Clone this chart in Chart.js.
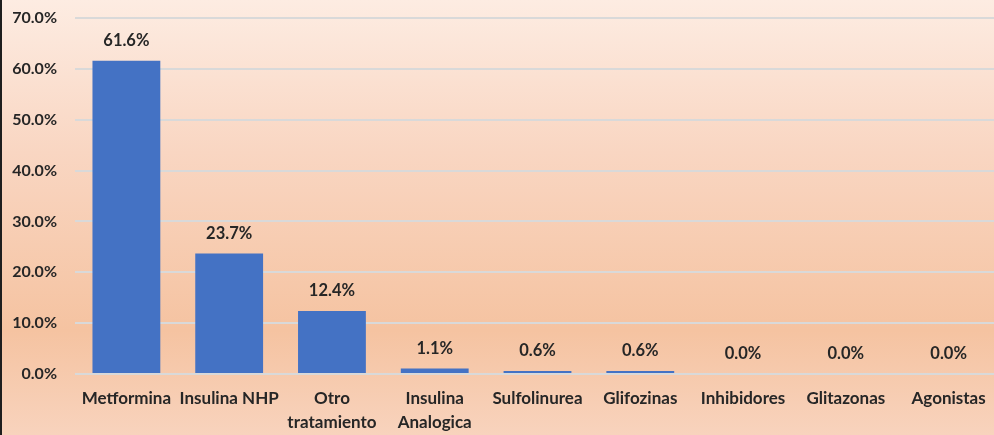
<!DOCTYPE html>
<html>
<head>
<meta charset="utf-8">
<script src="https://cdn.jsdelivr.net/npm/chart.js@4"></script>
<style>
  html, body { margin: 0; padding: 0; overflow: hidden; }
  body {
    width: 994px; height: 435px;
    background: linear-gradient(to bottom, #fdece2 0%, #f9d6c2 35%, #f5c3a1 76%, #f8d3bd 100%);
  }
  #wrap { position: absolute; left: 0; top: 0; width: 1000px; height: 435px; }
  #edge { position: absolute; left: 0; top: 0; width: 2px; height: 435px; background: #1e1e1e; }
</style>
</head>
<body>
<div id="wrap"><canvas id="barChart"></canvas></div>
<div id="edge"></div>
<script>
// categories + values (percent)
const categories = [
  "Metformina", "Insulina NHP", ["Otro", "tratamiento"], ["Insulina", "Analogica"],
  "Sulfolinurea", "Glifozinas", "Inhibidores", "Glitazonas", "Agonistas"
];
const values = [61.6, 23.7, 12.4, 1.1, 0.6, 0.6, 0.0, 0.0, 0.0];
const yTicks = [0, 10, 20, 30, 40, 50, 60, 70];

const textColor = "#262626";
const fontFamily = "Lato, 'Open Sans', sans-serif";

// simple value labels above each bar
const valueLabels = {
  id: "valueLabels",
  afterDatasetsDraw(chart) {
    const ctx = chart.ctx;
    const meta = chart.getDatasetMeta(0);
    ctx.save();
    ctx.font = "bold 16.5px " + fontFamily;
    ctx.fillStyle = textColor;
    ctx.textAlign = "center";
    ctx.textBaseline = "middle";
    meta.data.forEach((bar, i) => {
      ctx.fillText(values[i].toFixed(1) + "%", bar.x, bar.y - 20);
    });
    ctx.restore();
  }
};

const data = {
  labels: categories,
  datasets: [{
    data: values,
    backgroundColor: "#4472c4",
    borderWidth: 0,
    categoryPercentage: 1,
    barPercentage: 0.66,
  }]
};

const config = {
  type: "bar",
  data: data,
  options: {
    responsive: false,
    animation: false,
    layout: { padding: { top: 18, left: 0, right: 0, bottom: 0 } },
    plugins: { legend: { display: false }, tooltip: { enabled: false } },
    scales: {
      x: {
        grid: { display: false, drawTicks: false },
        border: { display: false },
        ticks: {
          color: textColor,
          padding: 12,
          maxRotation: 0,
          autoSkip: false,
          font: { family: fontFamily, size: 17, weight: "bold", lineHeight: 1.42 },
        },
        afterFit(scale) { scale.height = 61; },
      },
      y: {
        min: 0,
        max: 70,
        afterBuildTicks(scale) { scale.ticks = yTicks.map(v => ({ value: v })); },
        grid: { color: "#d9d9d9", lineWidth: 2, drawTicks: false },
        border: { display: false },
        ticks: {
          color: textColor,
          padding: 18,
          font: { family: fontFamily, size: 16, weight: "bold" },
          callback: v => v.toFixed(1) + "%",
        },
        afterFit(scale) {
          scale.width = 75;
          scale.paddingTop = 0;
          scale.paddingBottom = 0;
        },
      },
    },
  },
  plugins: [valueLabels],
};

const canvas = document.getElementById("barChart");
canvas.width = 1000;
canvas.height = 435;
const ctx = canvas.getContext("2d");
let myChart = new Chart(ctx, config);
</script>
</body>
</html>
